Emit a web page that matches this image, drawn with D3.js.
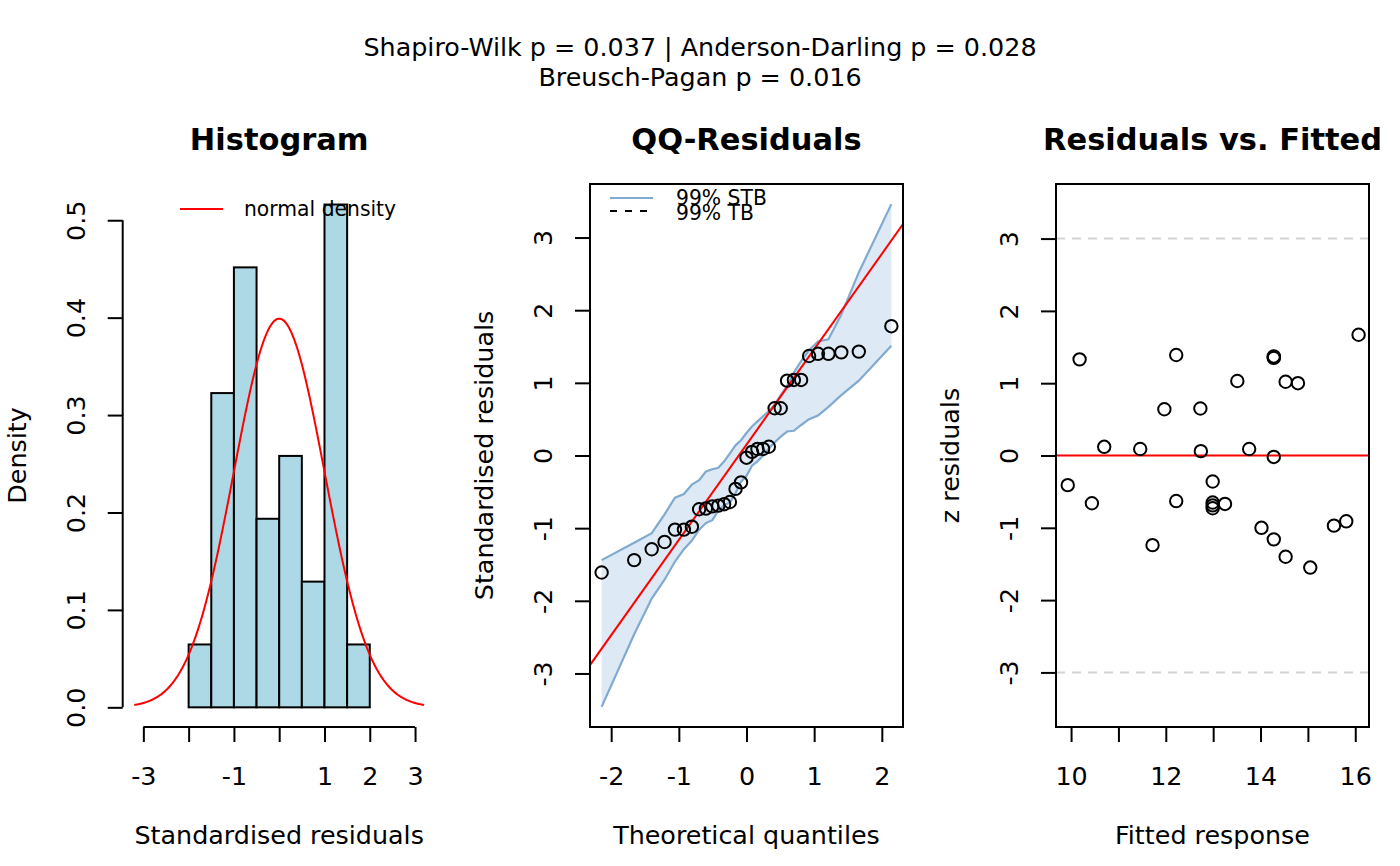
<!DOCTYPE html>
<html>
<head>
<meta charset="utf-8">
<script src="https://cdn.jsdelivr.net/npm/d3@7"></script>
<style>
  body { margin: 0; background: #fff; }
  text { font-family: "DejaVu Sans", sans-serif; }
</style>
</head>
<body>
<div id="chart"></div>
<script>
// Sorted standardised residuals (n = 31)
const stdResid = [-1.61, -1.44, -1.29, -1.19, -1.02, -1.02, -0.98, -0.74, -0.73, -0.70, -0.69,
  -0.67, -0.64, -0.46, -0.37, -0.03, 0.05, 0.09, 0.09, 0.12, 0.65, 0.65, 1.03, 1.04, 1.04,
  1.37, 1.40, 1.40, 1.42, 1.43, 1.78];
// Theoretical normal quantiles for n = 31
const theoQuant = [-2.141, -1.660, -1.401, -1.211, -1.057, -0.925, -0.807, -0.700, -0.600, -0.506,
  -0.416, -0.330, -0.245, -0.162, -0.081, 0, 0.081, 0.162, 0.245, 0.330, 0.416, 0.506, 0.600,
  0.700, 0.807, 0.925, 1.057, 1.211, 1.401, 1.660, 2.141];
// 99% simultaneous tolerance band
const bandUpper = [-1.44, -1.20, -1.07, -0.81, -0.58, -0.53, -0.40, -0.34, -0.22, -0.19, -0.17,
  -0.08, 0.03, 0.14, 0.21, 0.31, 0.40, 0.47, 0.54, 0.61, 0.70, 0.83, 0.96, 1.14, 1.30, 1.45,
  1.57, 1.60, 1.94, 2.52, 3.46];
const bandLower = [-3.46, -2.46, -1.97, -1.71, -1.46, -1.29, -1.17, -1.02, -0.93, -0.89, -0.76,
  -0.68, -0.65, -0.52, -0.36, -0.28, -0.14, -0.08, 0.00, 0.10, 0.18, 0.26, 0.33, 0.34, 0.42,
  0.50, 0.55, 0.67, 0.83, 1.03, 1.51];
// Residuals vs fitted
const fitted = [9.93, 10.18, 10.44, 10.70, 11.46, 11.72, 11.97, 12.22, 12.22, 12.73, 12.74,
  12.99, 12.99, 12.99, 12.99, 13.25, 13.51, 13.76, 14.02, 14.28, 14.28, 14.28, 14.28, 14.28,
  14.53, 14.53, 14.79, 15.05, 15.55, 15.81, 16.07];
const zResid = [-0.41, 1.33, -0.66, 0.12, 0.09, -1.24, 0.64, 1.39, -0.63, 0.65, 0.06, -0.36,
  -0.65, -0.73, -0.69, -0.67, 1.03, 0.09, -1.00, 1.37, 1.35, 1.36, -0.02, -1.16, 1.02, -1.40,
  1.00, -1.55, -0.97, -0.91, 1.67];

const histBreaks = [-2, -1.5, -1, -0.5, 0, 0.5, 1, 1.5, 2];
const histXTicks = [-3, -2, -1, 0, 1, 2, 3];
const histXLabels = ["-3", "", "-1", "", "1", "2", "3"];
const histYTicks = [0, 0.1, 0.2, 0.3, 0.4, 0.5];
const qqXTicks = [-2, -1, 0, 1, 2];
const qqYTicks = [-3, -2, -1, 0, 1, 2, 3];
const rvfXTicks = [10, 11, 12, 13, 14, 15, 16];
const rvfXLabels = ["10", "", "12", "", "14", "", "16"];
const rvfYTicks = [-3, -2, -1, 0, 1, 2, 3];
const refLines = [-3, 3];

const headerLines = ["Shapiro-Wilk p = 0.037 | Anderson-Darling p = 0.028", "Breusch-Pagan p = 0.016"];
const panelTitles = ["Histogram", "QQ-Residuals", "Residuals vs. Fitted"];
const xTitles = ["Standardised residuals", "Theoretical quantiles", "Fitted response"];
const yTitles = ["Density", "Standardised residuals", "z residuals"];

const width = 1400, height = 866;
const fs = 25.4;
const plotTop = 184, plotBottom = 727, plotW = 313;
const panelLeft = [122.7, 590, 1056];
const ptRadius = 6.2;

// plain hyphen for negatives, like R
const plain = d => String(d);

const svg = d3.select("#chart").append("svg")
  .attr("width", width).attr("height", height);
svg.append("rect").attr("width", width).attr("height", height).attr("fill", "#fff");

// Header
svg.selectAll("text.header")
  .data(headerLines)
  .enter().append("text")
  .attr("x", 700)
  .attr("y", (d, i) => 56 + i * 30)
  .attr("text-anchor", "middle")
  .style("font-size", fs + "px")
  .text(d => d);

// Panel titles and axis titles
panelLeft.forEach((l, i) => {
  const cx = l + plotW / 2;
  svg.append("text").attr("x", cx).attr("y", 150)
    .attr("text-anchor", "middle").style("font-size", (fs * 1.2) + "px")
    .style("font-weight", "bold").text(panelTitles[i]);
  svg.append("text").attr("x", cx).attr("y", 844)
    .attr("text-anchor", "middle").style("font-size", fs + "px").text(xTitles[i]);
  svg.append("text")
    .attr("transform", `translate(${l - 106},${(plotTop + plotBottom) / 2}) rotate(-90)`)
    .attr("dy", "0.35em")
    .attr("text-anchor", "middle").style("font-size", fs + "px").text(yTitles[i]);
});

// Axis helpers
function bottomAxis(g, scale, ticks, labels, y) {
  const ax = g.append("g").attr("transform", `translate(0,${y})`)
    .call(d3.axisBottom(scale).tickValues(ticks).tickSize(15).tickPadding(25)
      .tickFormat((d, i) => labels ? labels[i] : plain(d)));
  ax.select(".domain").remove();
  ax.selectAll("line").attr("stroke-width", 2);
  ax.selectAll("text").style("font-size", fs + "px");
  ax.attr("font-family", null).attr("font-size", null);
  return ax;
}
function leftAxis(g, scale, ticks, fmt, x) {
  const ax = g.append("g").attr("transform", `translate(${x},0)`)
    .call(d3.axisLeft(scale).tickValues(ticks).tickSize(15).tickFormat(fmt));
  ax.select(".domain").remove();
  ax.selectAll("line").attr("stroke-width", 2);
  ax.selectAll("text")
    .attr("transform", "rotate(-90)")
    .attr("x", 0).attr("y", -47).attr("dy", "0.35em")
    .attr("text-anchor", "middle")
    .style("font-size", fs + "px");
  ax.attr("font-family", null).attr("font-size", null);
  return ax;
}

// ---------- Panel 1: Histogram ----------
{
  const l = panelLeft[0];
  const x = d3.scaleLinear().domain([-3.456, 3.456]).range([l, l + plotW]);
  const y = d3.scaleLinear().domain([-0.0202, 0.5372]).range([plotBottom, plotTop]);
  const g = svg.append("g");

  const bins = d3.bin().domain([-2, 2]).thresholds(histBreaks)(stdResid);
  const n = stdResid.length;
  g.selectAll("rect.bar")
    .data(bins)
    .enter().append("rect")
    .attr("x", d => x(d.x0))
    .attr("y", d => y(d.length / (n * (d.x1 - d.x0))))
    .attr("width", d => x(d.x1) - x(d.x0))
    .attr("height", d => y(0) - y(d.length / (n * (d.x1 - d.x0))))
    .attr("fill", "#add8e6")
    .attr("stroke", "#000")
    .attr("stroke-width", 2);

  // normal density curve
  const xs = d3.range(-3.2, 3.2001, 0.02);
  const dens = xs.map(v => [v, Math.exp(-v * v / 2) / Math.sqrt(2 * Math.PI)]);
  g.append("path")
    .datum(dens)
    .attr("d", d3.line().x(d => x(d[0])).y(d => y(d[1])))
    .attr("fill", "none").attr("stroke", "red").attr("stroke-width", 2);

  // axes
  bottomAxis(g, x, histXTicks, histXLabels, plotBottom);
  g.append("line").attr("x1", x(-3)).attr("x2", x(3)).attr("y1", plotBottom).attr("y2", plotBottom)
    .attr("stroke", "#000").attr("stroke-width", 2);
  leftAxis(g, y, histYTicks, d3.format(".1f"), l);
  g.append("line").attr("x1", l).attr("x2", l).attr("y1", y(0)).attr("y2", y(0.5))
    .attr("stroke", "#000").attr("stroke-width", 2);

  // legend
  g.append("line").attr("x1", 180).attr("x2", 223).attr("y1", 209).attr("y2", 209)
    .attr("stroke", "red").attr("stroke-width", 2);
  g.append("text").attr("x", 244).attr("y", 209).attr("dy", "0.35em")
    .style("font-size", (fs * 0.8) + "px").text("normal density");
}

// ---------- Panel 2: QQ-Residuals ----------
{
  const l = panelLeft[1];
  const x = d3.scaleLinear().domain([-2.313, 2.313]).range([l, l + plotW]);
  const y = d3.scaleLinear().domain([-3.737, 3.737]).range([plotBottom, plotTop]);
  const g = svg.append("g");

  svg.append("clipPath").attr("id", "clipQQ")
    .append("rect").attr("x", l).attr("y", plotTop).attr("width", plotW).attr("height", plotBottom - plotTop);

  const band = theoQuant.map((q, i) => ({ q, lo: bandLower[i], hi: bandUpper[i] }));
  g.append("path").datum(band)
    .attr("d", d3.area().x(d => x(d.q)).y0(d => y(d.lo)).y1(d => y(d.hi)))
    .attr("fill", "#dde9f4");
  ["lo", "hi"].forEach(k => {
    g.append("path").datum(band)
      .attr("d", d3.line().x(d => x(d.q)).y(d => y(d[k])))
      .attr("fill", "none").attr("stroke", "#80aacf").attr("stroke-width", 2.2);
  });

  // reference line through the quartiles
  const q1 = d3.quantile(stdResid, 0.25), q3 = d3.quantile(stdResid, 0.75);
  const z75 = 0.6745;
  const slope = (q3 - q1) / (2 * z75);
  const icpt = q1 + slope * z75;
  const xd = x.domain();
  g.append("line").attr("clip-path", "url(#clipQQ)")
    .attr("x1", x(xd[0])).attr("y1", y(icpt + slope * xd[0]))
    .attr("x2", x(xd[1])).attr("y2", y(icpt + slope * xd[1]))
    .attr("stroke", "red").attr("stroke-width", 2);

  g.selectAll("circle")
    .data(theoQuant.map((q, i) => [q, stdResid[i]]))
    .enter().append("circle")
    .attr("cx", d => x(d[0])).attr("cy", d => y(d[1])).attr("r", ptRadius)
    .attr("fill", "none").attr("stroke", "#000").attr("stroke-width", 2);

  bottomAxis(g, x, qqXTicks, null, plotBottom);
  leftAxis(g, y, qqYTicks, plain, l);
  g.append("rect").attr("x", l).attr("y", plotTop).attr("width", plotW).attr("height", plotBottom - plotTop)
    .attr("fill", "none").attr("stroke", "#000").attr("stroke-width", 2);

  // legend
  g.append("line").attr("x1", 610).attr("x2", 653).attr("y1", 198).attr("y2", 198)
    .attr("stroke", "#80aacf").attr("stroke-width", 2);
  g.append("line").attr("x1", 610).attr("x2", 653).attr("y1", 211).attr("y2", 211)
    .attr("stroke", "#000").attr("stroke-width", 2).attr("stroke-dasharray", "7,8");
  g.append("text").attr("x", 676).attr("y", 198).attr("dy", "0.35em")
    .style("font-size", (fs * 0.8) + "px").text("99% STB");
  g.append("text").attr("x", 676).attr("y", 213).attr("dy", "0.35em")
    .style("font-size", (fs * 0.8) + "px").text("99% TB");
}

// ---------- Panel 3: Residuals vs. Fitted ----------
{
  const l = panelLeft[2];
  const x = d3.scaleLinear().domain([9.682, 16.29]).range([l, l + plotW]);
  const y = d3.scaleLinear().domain([-3.755, 3.755]).range([plotBottom, plotTop]);
  const g = svg.append("g");

  g.selectAll("line.ref")
    .data(refLines)
    .enter().append("line")
    .attr("x1", l).attr("x2", l + plotW)
    .attr("y1", d => y(d)).attr("y2", d => y(d))
    .attr("stroke", "#d3d3d3").attr("stroke-width", 2).attr("stroke-dasharray", "9,7");
  g.append("line").attr("x1", l).attr("x2", l + plotW).attr("y1", y(0)).attr("y2", y(0))
    .attr("stroke", "red").attr("stroke-width", 2);

  g.selectAll("circle")
    .data(fitted.map((f, i) => [f, zResid[i]]))
    .enter().append("circle")
    .attr("cx", d => x(d[0])).attr("cy", d => y(d[1])).attr("r", ptRadius)
    .attr("fill", "none").attr("stroke", "#000").attr("stroke-width", 2);

  bottomAxis(g, x, rvfXTicks, rvfXLabels, plotBottom);
  leftAxis(g, y, rvfYTicks, plain, l);
  g.append("rect").attr("x", l).attr("y", plotTop).attr("width", plotW).attr("height", plotBottom - plotTop)
    .attr("fill", "none").attr("stroke", "#000").attr("stroke-width", 2);
}
</script>
</body>
</html>
